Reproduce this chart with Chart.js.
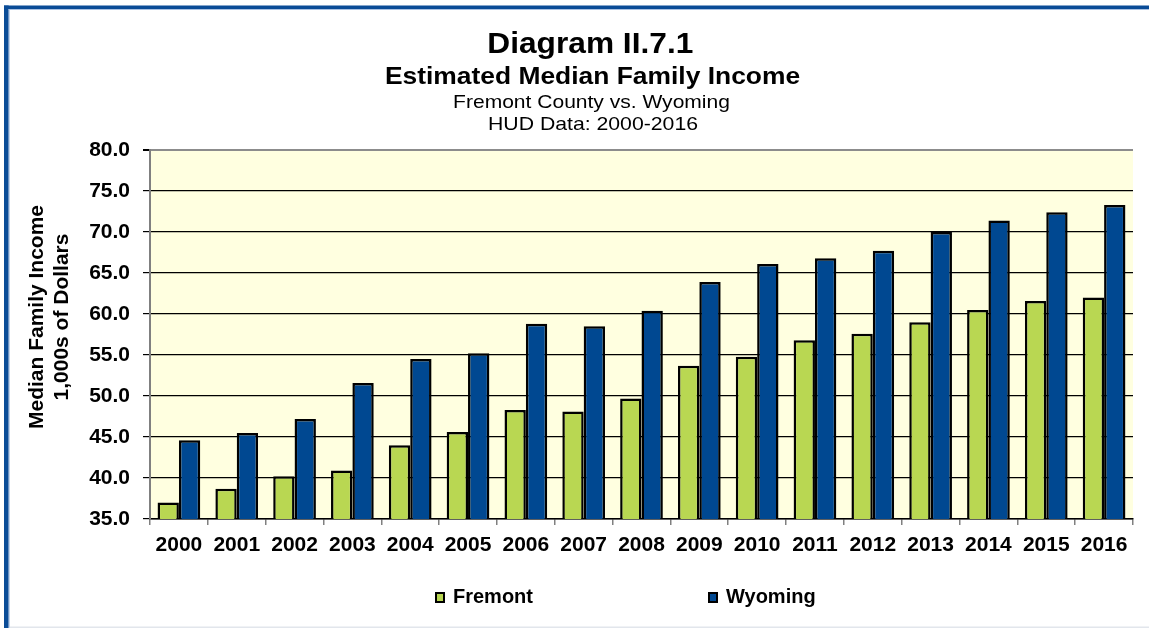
<!DOCTYPE html>
<html>
<head>
<meta charset="utf-8">
<script src="https://cdn.jsdelivr.net/npm/chart.js@4.4.1/dist/chart.umd.min.js"></script>
<style>
  html, body { margin: 0; padding: 0; background: #ffffff; }
  #wrap { width: 1149px; height: 628px; position: relative; }
</style>
</head>
<body>
<div id="wrap"><canvas id="c" width="1149" height="628"></canvas></div>
<script>
const years = ['2000','2001','2002','2003','2004','2005','2006','2007','2008','2009','2010','2011','2012','2013','2014','2015','2016'];
const fremont = [37.0, 38.7, 40.2, 40.9, 44.0, 45.6, 48.3, 48.1, 49.7, 53.7, 54.8, 56.8, 57.6, 59.0, 60.5, 61.6, 62.0];
const wyoming = [44.6, 45.5, 47.2, 51.6, 54.5, 55.2, 58.8, 58.5, 60.4, 63.9, 66.1, 66.8, 67.7, 70.0, 71.4, 72.4, 73.3];
const seriesNames = ['Fremont', 'Wyoming'];
const titleLines = ['Diagram II.7.1', 'Estimated Median Family Income', 'Fremont County vs. Wyoming', 'HUD Data: 2000-2016'];
const yTitleLines = ['Median Family Income', '1,000s of Dollars'];
const yMin = 35, yMax = 80, yStep = 5;

const FONT = '"Liberation Sans", Arial, Helvetica, sans-serif';
const GREEN = '#B9D752';
const BLUE = '#004891';

function stretchedText(ctx, text, x, y, font, sx, align) {
  ctx.save();
  ctx.font = font;
  ctx.fillStyle = '#000';
  ctx.textAlign = align || 'center';
  ctx.textBaseline = 'alphabetic';
  ctx.translate(x, y);
  ctx.scale(sx, 1);
  ctx.fillText(text, 0, 0);
  ctx.restore();
}

const decorPlugin = {
  id: 'decor',
  beforeDraw(chart) {
    const ctx = chart.ctx;
    const a = chart.chartArea;
    ctx.save();
    ctx.fillStyle = '#ffffff';
    ctx.fillRect(0, 0, chart.width, chart.height);
    ctx.fillStyle = '#FFFFE0';
    ctx.fillRect(a.left, a.top, a.right - a.left, a.bottom - a.top);
    ctx.fillStyle = '#0A4C97';
    ctx.fillRect(4, 5.5, chart.width - 4, 3.5);
    ctx.fillRect(4, 5.5, 4.7, chart.height - 5.5);
    ctx.fillStyle = '#A9C1E2';
    ctx.fillRect(8.7, 9, chart.width - 8.7, 1);
    ctx.fillRect(8.7, 9, 1, chart.height - 9);
    ctx.fillStyle = '#E2E6EC';
    ctx.fillRect(9.7, chart.height - 1.5, chart.width - 9.7, 1.5);
    ctx.restore();
  },
  afterDraw(chart) {
    const ctx = chart.ctx;
    stretchedText(ctx, titleLines[0], 590.3, 53.3, 'bold 30px ' + FONT, 1.056);
    stretchedText(ctx, titleLines[1], 592.5, 84, 'bold 24px ' + FONT, 1.1);
    stretchedText(ctx, titleLines[2], 591.5, 108, '19px ' + FONT, 1.107);
    stretchedText(ctx, titleLines[3], 593, 130.3, '19px ' + FONT, 1.117);
    const yc = 317;
    [[yTitleLines[0], 42.7], [yTitleLines[1], 68.3]].forEach(([t, x]) => {
      ctx.save();
      ctx.translate(x, yc);
      ctx.rotate(-Math.PI / 2);
      ctx.font = 'bold 21px ' + FONT;
      ctx.fillStyle = '#000';
      ctx.textAlign = 'center';
      ctx.textBaseline = 'alphabetic';
      ctx.fillText(t, 0, 0);
      ctx.restore();
    });
    const items = [{x: 435}, {x: 708}];
    chart.data.datasets.forEach((ds, i) => {
      const bx = items[i].x, by = 592;
      ctx.save();
      ctx.fillStyle = ds.backgroundColor;
      ctx.fillRect(bx, by, 10, 11);
      ctx.lineWidth = 2;
      ctx.strokeStyle = '#000';
      ctx.strokeRect(bx + 1, by + 1, 8, 9);
      ctx.font = 'bold 20px ' + FONT;
      ctx.fillStyle = '#000';
      ctx.textAlign = 'left';
      ctx.textBaseline = 'alphabetic';
      ctx.fillText(ds.label, bx + 18, 603.3);
      ctx.restore();
    });
  }
};

new Chart(document.getElementById('c'), {
  type: 'bar',
  data: {
    labels: years,
    datasets: [
      {
        label: seriesNames[0],
        data: fremont,
        backgroundColor: GREEN,
        borderColor: '#000',
        borderWidth: 2.5,
        borderSkipped: 'start',
        inflateAmount: 0,
        categoryPercentage: 0.7385,
        barPercentage: 1.0
      },
      {
        label: seriesNames[1],
        data: wyoming,
        backgroundColor: BLUE,
        borderColor: '#000',
        borderWidth: 2.5,
        borderSkipped: 'start',
        inflateAmount: 0,
        categoryPercentage: 0.7385,
        barPercentage: 1.0
      }
    ]
  },
  options: {
    responsive: false,
    animation: false,
    devicePixelRatio: 1,
    layout: { padding: { top: 150, right: 16, left: 0, bottom: 59 } },
    plugins: {
      legend: { display: false },
      title: { display: false },
      tooltip: { enabled: false }
    },
    scales: {
      x: {
        type: 'category',
        offset: true,
        grid: {
          display: true,
          offset: true,
          drawOnChartArea: false,
          drawTicks: true,
          tickLength: 6,
          color: '#808080',
          lineWidth: 1.5
        },
        border: { display: true, color: '#000', width: 1.5 },
        ticks: {
          color: '#000',
          font: { family: FONT, size: 21, weight: 'bold' },
          padding: 7.5,
          maxRotation: 0,
          autoSkip: false
        },
        afterFit(scale) { scale.height = 50; }
      },
      y: {
        min: yMin,
        max: yMax,
        grid: {
          color: (c) => (c.tick && c.tick.value === yMax) ? '#8C8C8C' : '#000',
          lineWidth: (c) => (c.tick && c.tick.value === yMax) ? 2 : 1.2,
          drawTicks: true,
          tickLength: 7,
          tickColor: '#000'
        },
        border: { display: true, color: '#808080', width: 2 },
        ticks: {
          stepSize: yStep,
          color: '#000',
          font: { family: FONT, size: 21, weight: 'bold' },
          padding: 13,
          callback: (v) => Number(v).toFixed(1)
        },
        afterFit(scale) { scale.width = 150; }
      }
    }
  },
  plugins: [decorPlugin]
});
</script>
</body>
</html>
